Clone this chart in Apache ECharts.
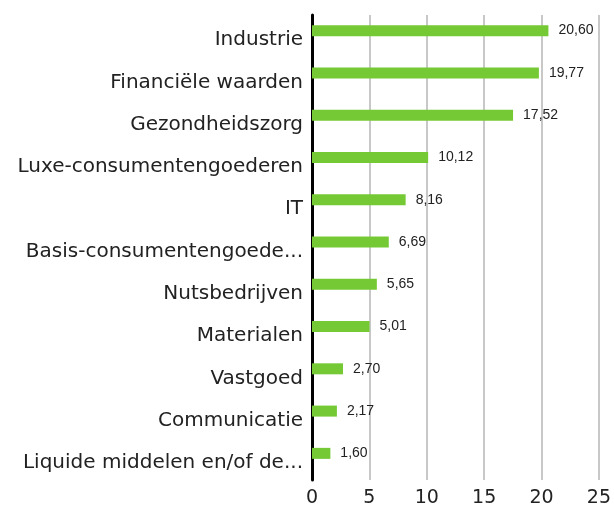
<!DOCTYPE html>
<html>
<head>
<meta charset="utf-8">
<script src="https://cdn.jsdelivr.net/npm/echarts@6/dist/echarts.min.js"></script>
<style>html,body{margin:0;padding:0;background:#fff;}#c{width:614px;height:508px;}</style>
</head>
<body>
<div id="c"></div>
<script>
const categories = ['Industrie','Financiële waarden','Gezondheidszorg','Luxe-consumentengoederen','IT','Basis-consumentengoede...','Nutsbedrijven','Materialen','Vastgoed','Communicatie','Liquide middelen en/of de...'];
const values = [20.60, 19.77, 17.52, 10.12, 8.16, 6.69, 5.65, 5.01, 2.70, 2.17, 1.60];
const xTicks = [0, 5, 10, 15, 20, 25];

const chart = echarts.init(document.getElementById('c'), null, {renderer: 'canvas'});
chart.setOption({
  animation: false,
  backgroundColor: '#fff',
  grid: {left: 312, right: 14, top: 15, bottom: 23, containLabel: false},
  xAxis: {
    type: 'value', min: xTicks[0], max: xTicks[xTicks.length-1], interval: 5,
    axisLine: {show: false}, axisTick: {show: false},
    splitLine: {show: true, lineStyle: {color: '#c8c8c8', width: 2}},
    axisLabel: {fontFamily: 'DejaVu Sans', fontSize: 19, color: '#222', margin: 9}
  },
  yAxis: {
    type: 'category', data: categories, inverse: true,
    axisLine: {show: true, onZero: false, lineStyle: {color: '#000', width: 3}},
    axisTick: {show: false},
    axisLabel: {fontFamily: 'DejaVu Sans', fontSize: 20, color: '#222', margin: 9, verticalAlign: 'top', lineHeight: 8}
  },
  series: [
    {
      type: 'bar', data: values, barWidth: 11, barGap: '0%',
      itemStyle: {color: '#74c934'},
      label: {show: true, position: 'right', distance: 10, fontFamily: 'Liberation Sans', fontSize: 14, color: '#222',
        formatter: p => p.value.toFixed(2).replace('.', ',')}
    },
    {
      type: 'bar', data: values.map(() => null), barWidth: 11, barGap: '0%'
    }
  ]
});
</script>
</body>
</html>
